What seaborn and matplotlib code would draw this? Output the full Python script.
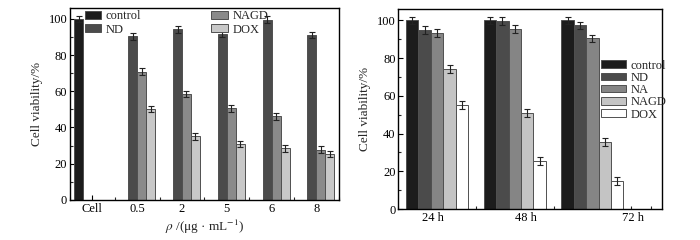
import pandas as pd
import seaborn as sns
import matplotlib.pyplot as plt
import matplotlib.transforms as mtransforms
from matplotlib.container import BarContainer
from matplotlib.ticker import AutoMinorLocator, MultipleLocator

# left panel: viability vs concentration
conc = ['Cell', '0.5', '2', '5', '6', '8']
left_groups = ['control', 'ND', 'NAGD', 'DOX']
left_control = [100, None, None, None, None, None]
left_nd = [None, 90.3, 94.1, 91.7, 99.6, 91.0]
left_nagd = [None, 70.8, 58.6, 50.6, 46.1, 27.8]
left_dox = [None, 50.2, 35.1, 30.9, 28.5, 25.4]
left_err = 1.8

# right panel: viability vs time
times = ['24 h', '48 h', '72 h']
right_groups = ['control', 'ND', 'NA', 'NAGD', 'DOX']
right_control = [100, 100, 100]
right_nd = [94.9, 99.8, 97.4]
right_na = [93.3, 95.6, 90.5]
right_nagd = [74.3, 50.9, 35.6]
right_dox = [55.3, 25.4, 15.0]
right_err = 2.0

left_colors = ['#1c1c1c', '#4b4b4b', '#8a8a8a', '#c8c8c8']
right_colors = ['#1c1c1c', '#4b4b4b', '#858585', '#c4c4c4', '#ffffff']


def to_long(cats, groups, series):
    rows = []
    for g, vals in zip(groups, series):
        for c, v in zip(cats, vals):
            if v is not None:
                rows.append({'cat': c, 'grp': g, 'val': v})
    return pd.DataFrame(rows)


left_df = to_long(conc, left_groups, [left_control, left_nd, left_nagd, left_dox])
right_df = to_long(times, right_groups,
                   [right_control, right_nd, right_na, right_nagd, right_dox])

sns.set_style('ticks')
plt.rcParams['font.family'] = ['Liberation Serif', 'DejaVu Serif']
plt.rcParams['mathtext.fontset'] = 'stix'
plt.rcParams['xtick.direction'] = 'in'
plt.rcParams['ytick.direction'] = 'in'

fig = plt.figure(figsize=(7, 2.4), dpi=100)
ax1 = fig.add_axes([0.1, 0.167, 0.384, 0.8])
ax2 = fig.add_axes([0.569, 0.129, 0.377, 0.833])


def draw(ax, df, cats, groups, colors, err):
    sns.barplot(data=df, x='cat', y='val', hue='grp', order=cats,
                hue_order=groups, palette=colors, errorbar=None,
                edgecolor='#505050', linewidth=0.7, width=0.8, ax=ax)
    bars = [c for c in ax.containers if isinstance(c, BarContainer)]
    for cont in bars:
        xs = [p.get_x() + p.get_width() / 2 for p in cont.patches]
        ys = [p.get_height() for p in cont.patches]
        ax.errorbar(xs, ys, yerr=err, fmt='none', ecolor='#222222',
                    elinewidth=0.8, capsize=2.2, capthick=0.8)
    ax.set_ylim(0, 106)
    ax.yaxis.set_major_locator(MultipleLocator(20))
    ax.yaxis.set_minor_locator(AutoMinorLocator(2))
    ax.tick_params(which='major', length=3.5, width=0.8, labelsize=9,
                   colors='black', pad=2)
    ax.tick_params(which='minor', length=2, width=0.8)
    ax.set_ylabel('Cell viability/%', fontsize=9.5)
    for s in ax.spines.values():
        s.set_linewidth(1.0)
        s.set_color('black')


draw(ax1, left_df, conc, left_groups, left_colors, left_err)
ax1.set_xlim(-0.5, 5.5)
ax1.xaxis.set_minor_locator(AutoMinorLocator(2))
ax1.set_xlabel(r'$\rho$ /(μg · mL$^{-1}$)', fontsize=9.5, labelpad=2)
h, l = ax1.get_legend_handles_labels()
ax1.legend(h, l, ncol=2, frameon=False, loc='upper left',
           bbox_to_anchor=(0.045, 1.0), borderaxespad=0, borderpad=0.2,
           columnspacing=5.6, handlelength=1.3, handleheight=0.55,
           handletextpad=0.4, labelspacing=0.1, fontsize=9)

draw(ax2, right_df, times, right_groups, right_colors, right_err)
ax2.set_xlim(-0.5, 2.9)
ax2.xaxis.set_minor_locator(AutoMinorLocator(4))
ax2.set_xlabel('')
# tick labels in the source sit off-centre from their groups
shifts = [-4, 11, 41]
for lab, dx in zip(ax2.get_xticklabels(), shifts):
    lab.set_transform(lab.get_transform() +
                      mtransforms.ScaledTranslation(dx / 100, 0, fig.dpi_scale_trans))
h, l = ax2.get_legend_handles_labels()
ax2.legend(h, l, frameon=False, loc='upper left',
           bbox_to_anchor=(0.76, 0.76), borderaxespad=0, borderpad=0.2,
           handlelength=1.95, handleheight=0.55, handletextpad=0.4,
           labelspacing=0.02, fontsize=9)

fig.savefig('out.png', dpi=100)
